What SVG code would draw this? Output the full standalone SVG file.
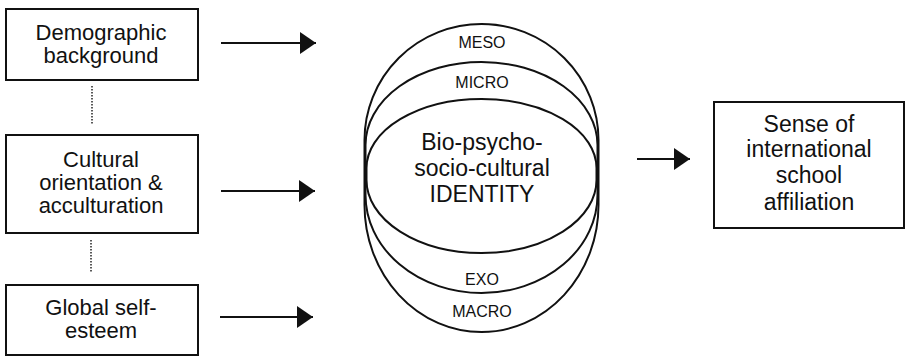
<svg xmlns="http://www.w3.org/2000/svg" width="906" height="358" viewBox="0 0 906 358">
<style>
.box{fill:#fff;stroke:#111;stroke-width:2}
.t{font-family:"Liberation Sans",Arial,sans-serif;fill:#111;text-anchor:middle}
.lb{font-size:22px}
.big{font-size:23px}
.sm{font-size:16px}
.con{stroke:#111;stroke-width:2;fill:none}
.dot{stroke:#222;stroke-width:1.5;stroke-dasharray:1.5 1.5;fill:none}
.ell{fill:none;stroke:#111;stroke-width:2}
</style>
<defs>
<marker id="ah" markerUnits="userSpaceOnUse" markerWidth="16" markerHeight="22" refX="16" refY="11" orient="auto">
<path d="M0,0 L16,11 L0,22 z" fill="#111"/>
</marker>
</defs>
<rect width="906" height="358" fill="#fff"/>
<g id="n-demographic">
<rect class="box" x="6" y="9" width="192" height="71"/>
<text class="t lb" x="101" y="40">Demographic</text>
<text class="t lb" x="101" y="63">background</text>
</g>
<g id="n-cultural">
<rect class="box" x="6" y="135" width="192" height="98"/>
<text class="t lb" x="101" y="167">Cultural</text>
<text class="t lb" x="101" y="190">orientation &amp;</text>
<text class="t lb" x="101" y="213">acculturation</text>
</g>
<g id="n-selfesteem">
<rect class="box" x="6" y="285" width="192" height="70"/>
<text class="t lb" x="101" y="315">Global self-</text>
<text class="t lb" x="101" y="338">esteem</text>
</g>
<g id="n-identity">
<path class="ell" d="M364.5,205 L364.5,140 A117,116 0 0 1 598.5,140 L598.5,205 A117,127 0 0 1 364.5,205 Z"/>
<path class="ell" d="M365.5,195 L365.5,145 A116,83 0 0 1 597.5,145 L597.5,195 A116,98 0 0 1 365.5,195 Z"/>
<path class="ell" d="M366.5,180 L366.5,168 A115,69 0 0 1 596.5,168 L596.5,180 A115,73 0 0 1 366.5,180 Z"/>
<text class="t sm" x="482" y="48">MESO</text>
<text class="t sm" x="482" y="88">MICRO</text>
<text class="t big" x="482" y="150">Bio-psycho-</text>
<text class="t big" x="482" y="176">socio-cultural</text>
<text class="t big" x="482" y="202">IDENTITY</text>
<text class="t sm" x="482" y="285">EXO</text>
<text class="t sm" x="482" y="317">MACRO</text>
</g>
<g id="n-affiliation">
<rect class="box" x="714" y="102" width="190" height="126"/>
<text class="t big" x="809" y="132">Sense of</text>
<text class="t big" x="809" y="157">international</text>
<text class="t big" x="809" y="183">school</text>
<text class="t big" x="809" y="210">affiliation</text>
</g>
<g id="connectors">
<line class="dot" x1="92" y1="86" x2="92" y2="125"/>
<line class="dot" x1="91" y1="240" x2="91" y2="273"/>
<line class="con" x1="221" y1="43" x2="316" y2="43" marker-end="url(#ah)"/>
<line class="con" x1="221" y1="191" x2="315" y2="191" marker-end="url(#ah)"/>
<line class="con" x1="220" y1="317" x2="313" y2="317" marker-end="url(#ah)"/>
<line class="con" x1="637" y1="159" x2="690" y2="159" marker-end="url(#ah)"/>
</g>
</svg>
